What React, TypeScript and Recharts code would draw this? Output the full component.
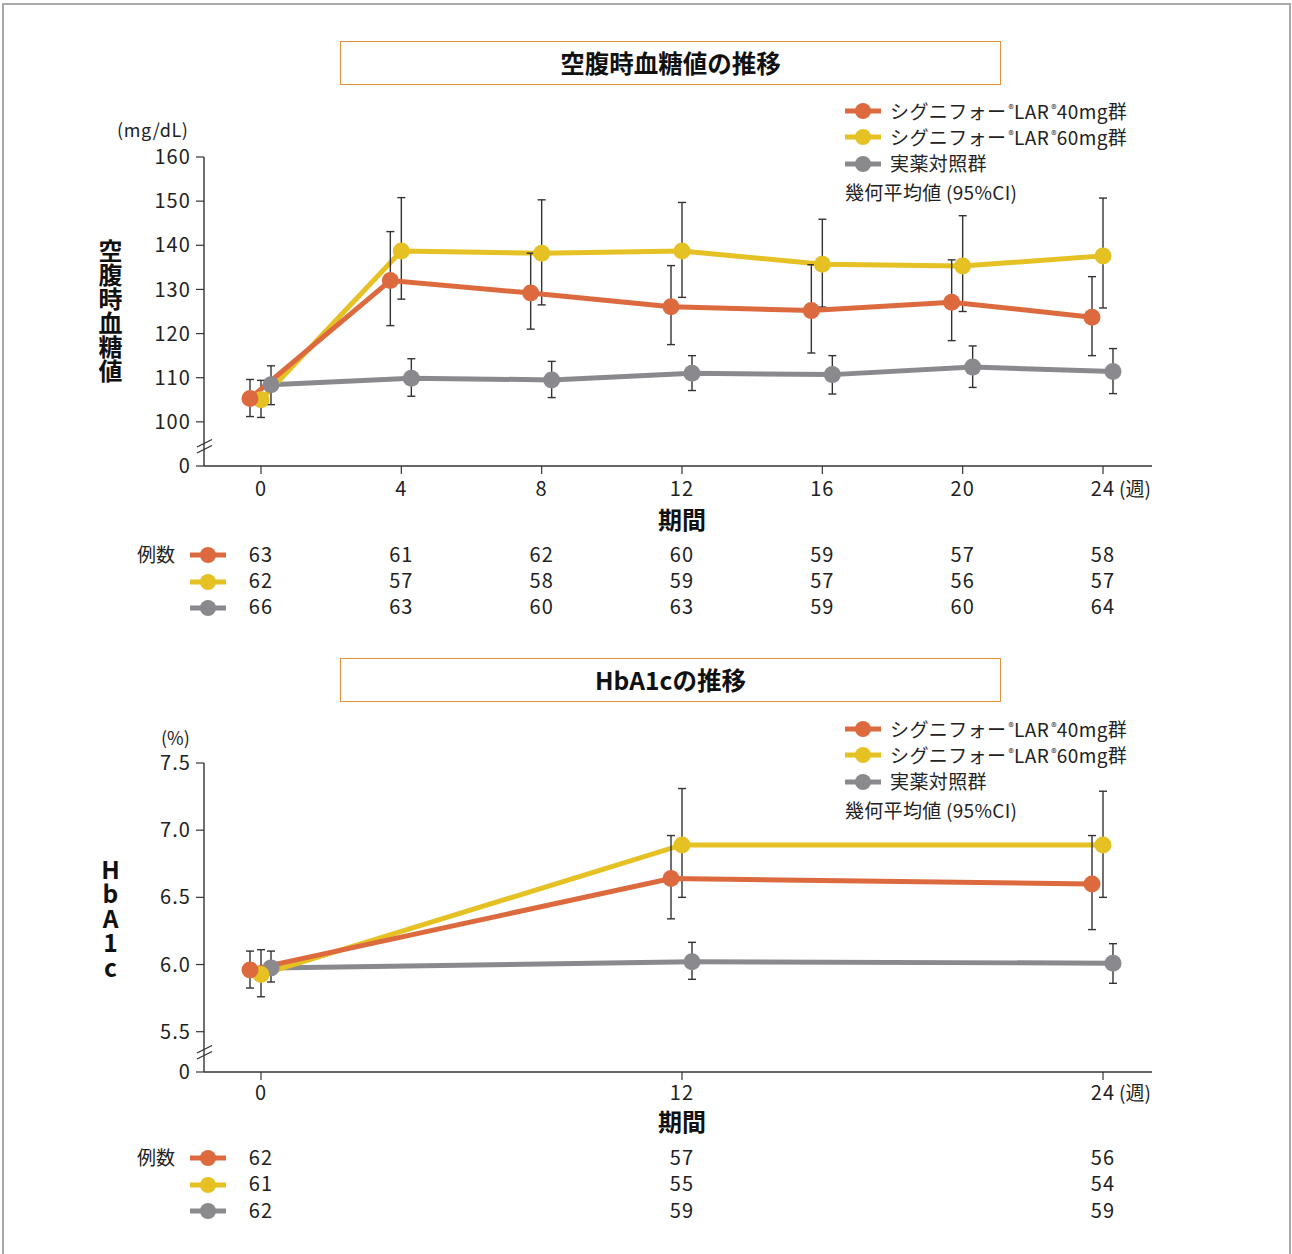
import { ErrorBar, Line, LineChart, XAxis, YAxis } from 'recharts';

const ORANGE = '#dc6a3e';
const YELLOW = '#e5c124';
const GRAY = '#8a8a8e';
const INK = '#222';
const FONT = '"Noto Sans CJK JP", "Noto Sans", sans-serif';

// 空腹時血糖値 (mg/dL), geometric mean and 95%CI
const fpgWeeks = [0, 4, 8, 12, 16, 20, 24];
const fpg40Mean = [105.3, 132.0, 129.2, 126.1, 125.2, 127.1, 123.7];
const fpg40Low = [101.2, 121.8, 121.0, 117.5, 115.6, 118.4, 115.0];
const fpg40High = [109.6, 143.1, 138.2, 135.4, 135.6, 136.7, 132.9];
const fpg60Mean = [105.0, 138.7, 138.2, 138.7, 135.7, 135.3, 137.6];
const fpg60Low = [101.0, 127.8, 126.5, 128.2, 126.0, 125.0, 125.8];
const fpg60High = [109.4, 150.8, 150.3, 149.7, 145.9, 146.7, 150.7];
const fpgCtrlMean = [108.4, 109.9, 109.5, 111.0, 110.7, 112.4, 111.4];
const fpgCtrlLow = [103.9, 105.8, 105.5, 107.1, 106.3, 107.8, 106.4];
const fpgCtrlHigh = [112.7, 114.3, 113.7, 115.0, 115.0, 117.2, 116.6];
const fpgN40 = [63, 61, 62, 60, 59, 57, 58];
const fpgN60 = [62, 57, 58, 59, 57, 56, 57];
const fpgNCtrl = [66, 63, 60, 63, 59, 60, 64];
const fpgTicks = [90, 100, 110, 120, 130, 140, 150, 160];

// HbA1c (%)
const hbaWeeks = [0, 12, 24];
const hba40Mean = [5.96, 6.64, 6.6];
const hba40Low = [5.825, 6.34, 6.26];
const hba40High = [6.1, 6.96, 6.96];
const hba60Mean = [5.925, 6.89, 6.89];
const hba60Low = [5.76, 6.5, 6.5];
const hba60High = [6.11, 7.31, 7.29];
const hbaCtrlMean = [5.975, 6.02, 6.01];
const hbaCtrlLow = [5.87, 5.89, 5.86];
const hbaCtrlHigh = [6.1, 6.165, 6.155];
const hbaN40 = [62, 57, 56];
const hbaN60 = [61, 55, 54];
const hbaNCtrl = [62, 59, 59];
const hbaTicks = [5.2, 5.5, 6.0, 6.5, 7.0, 7.5];

type Group = { mean: number[]; low: number[]; high: number[] };

function buildRows(weeks: number[], g40: Group, g60: Group, ctrl: Group) {
  return weeks.map((week, i) => ({
    week,
    o: g40.mean[i],
    oErr: [g40.mean[i] - g40.low[i], g40.high[i] - g40.mean[i]],
    y: g60.mean[i],
    yErr: [g60.mean[i] - g60.low[i], g60.high[i] - g60.mean[i]],
    g: ctrl.mean[i],
    gErr: [ctrl.mean[i] - ctrl.low[i], ctrl.high[i] - ctrl.mean[i]],
  }));
}

const fpgRows = buildRows(
  fpgWeeks,
  { mean: fpg40Mean, low: fpg40Low, high: fpg40High },
  { mean: fpg60Mean, low: fpg60Low, high: fpg60High },
  { mean: fpgCtrlMean, low: fpgCtrlLow, high: fpgCtrlHigh },
);
const hbaRows = buildRows(
  hbaWeeks,
  { mean: hba40Mean, low: hba40Low, high: hba40High },
  { mean: hba60Mean, low: hba60Low, high: hba60High },
  { mean: hbaCtrlMean, low: hbaCtrlLow, high: hbaCtrlHigh },
);

const NUM_FONT = 20;
const NUM_SPACING = 1.1;

function Icon({ color }: { color: string }) {
  return (
    <svg width={36} height={18} style={{ display: 'block' }}>
      <line x1={0} y1={9} x2={36} y2={9} stroke={color} strokeWidth={5} />
      <circle cx={18} cy={9} r={8} fill={color} />
    </svg>
  );
}

const sup = { fontSize: 11, verticalAlign: '6px', marginLeft: 2 };

function LegendBlock({ top }: { top: number }) {
  const rows = [
    { color: ORANGE, label: <>シグニフォー<span style={sup}>®</span>LAR<span style={sup}>®</span>40mg群</> },
    { color: YELLOW, label: <>シグニフォー<span style={sup}>®</span>LAR<span style={sup}>®</span>60mg群</> },
    { color: GRAY, label: <>実薬対照群</> },
  ];
  const centers = [0, 26, 53];
  return (
    <>
      {rows.map((r, i) => (
        <div key={i} style={{ position: 'absolute', left: 845, top: top + centers[i] - 11, height: 22, display: 'flex', alignItems: 'center' }}>
          <Icon color={r.color} />
          <span style={{ marginLeft: 9, marginTop: -3, fontSize: 19, color: INK, lineHeight: '22px', letterSpacing: 0.4, whiteSpace: 'nowrap' }}>{r.label}</span>
        </div>
      ))}
      <div style={{ position: 'absolute', left: 845, top: top + 83 - 13, lineHeight: '22px', fontSize: 19, color: INK, letterSpacing: 0.3 }}>
        幾何平均値 (95%CI)
      </div>
    </>
  );
}

function CountLegend({ top }: { top: number }) {
  const colors = [ORANGE, YELLOW, GRAY];
  return (
    <>
      <div style={{ position: 'absolute', left: 137, top: top - 12, lineHeight: '22px', fontSize: 19, color: INK }}>例数</div>
      {colors.map((c, i) => (
        <div key={c} style={{ position: 'absolute', left: 190, top: top + i * 26.5 - 9 }}>
          <Icon color={c} />
        </div>
      ))}
    </>
  );
}

type PanelProps = {
  top: number;
  height: number;
  plotTop: number;
  axisY: number;
  rows: ReturnType<typeof buildRows>;
  weeks: number[];
  yDomain: [number, number];
  yTicks: number[];
  yFormat: (v: number) => string;
  counts: number[][];
  labelDy: number;
  rowDy: number[];
};

function Panel({ top, height, plotTop, axisY, rows, weeks, yDomain, yTicks, yFormat, counts, labelDy, rowDy }: PanelProps) {
  const xAxisHeight = 160;
  const renderTick = (props: any) => {
    const { x, y, payload } = props;
    const i = weeks.indexOf(payload.value);
    const last = i === weeks.length - 1;
    const common = { dominantBaseline: 'central' as const, fontSize: NUM_FONT, fill: INK, fontFamily: FONT, letterSpacing: NUM_SPACING };
    return (
      <g>
        <text x={x} y={y + labelDy} textAnchor="middle" {...common}>
          {payload.value}
        </text>
        {last && (
          <text x={x + 16} y={y + labelDy} textAnchor="start" dominantBaseline="central" fontSize={19} fill={INK} fontFamily={FONT}>
            (週)
          </text>
        )}
        {counts.map((list, r) => (
          <text key={r} x={x} y={y + rowDy[r]} textAnchor="middle" {...common}>
            {list[i]}
          </text>
        ))}
      </g>
    );
  };
  const errProps = { width: 4, strokeWidth: 1.4, stroke: '#333', direction: 'y' as const };
  return (
    <div style={{ position: 'absolute', left: 0, top, width: 1292, height }}>
      <LineChart
        width={1292}
        height={height}
        data={rows}
        margin={{ top: plotTop, right: 140, left: 144, bottom: height - axisY - xAxisHeight }}
        style={{ fontFamily: FONT }}
      >
        <XAxis
          xAxisId="main"
          dataKey="week"
          type="number"
          domain={[0, 24]}
          ticks={weeks}
          padding={{ left: 57, right: 49 }}
          height={xAxisHeight}
          axisLine={{ stroke: '#333', strokeWidth: 1.4 }}
          tickLine={{ stroke: '#333', strokeWidth: 1.2 }}
          tickSize={8}
          tickMargin={0}
          tick={renderTick}
          interval={0}
        />
        <XAxis xAxisId="left" orientation="top" height={0} dataKey="week" type="number" domain={[0, 24]} padding={{ left: 46, right: 60 }} hide />
        <XAxis xAxisId="right" orientation="top" height={0} dataKey="week" type="number" domain={[0, 24]} padding={{ left: 67, right: 39 }} hide />
        <YAxis
          type="number"
          domain={yDomain}
          ticks={yTicks}
          interval={0}
          width={60}
          allowDataOverflow
          axisLine={{ stroke: '#333', strokeWidth: 1.4 }}
          tickLine={{ stroke: '#333', strokeWidth: 1.2 }}
          tickSize={8}
          tickMargin={5}
          tick={{ fontSize: NUM_FONT, fill: INK, fontFamily: FONT, letterSpacing: NUM_SPACING }}
          tickFormatter={yFormat}
        />
        <Line xAxisId="right" dataKey="g" stroke={GRAY} strokeWidth={5} dot={{ r: 8.5, fill: GRAY, stroke: GRAY, strokeWidth: 0 }} activeDot={false} isAnimationActive={false}>
          <ErrorBar dataKey="gErr" {...errProps} />
        </Line>
        <Line xAxisId="main" dataKey="y" stroke={YELLOW} strokeWidth={5} dot={{ r: 8.5, fill: YELLOW, stroke: YELLOW, strokeWidth: 0 }} activeDot={false} isAnimationActive={false}>
          <ErrorBar dataKey="yErr" {...errProps} />
        </Line>
        <Line xAxisId="left" dataKey="o" stroke={ORANGE} strokeWidth={5} dot={{ r: 8.5, fill: ORANGE, stroke: ORANGE, strokeWidth: 0 }} activeDot={false} isAnimationActive={false}>
          <ErrorBar dataKey="oErr" {...errProps} />
        </Line>
      </LineChart>
      {/* axis break */}
      <svg width={30} height={30} style={{ position: 'absolute', left: 192, top: axisY - 35 }}>
        <line x1={5} y1={16} x2={20} y2={8.5} stroke="#333" strokeWidth={1.3} />
        <line x1={5} y1={22} x2={20} y2={14.5} stroke="#333" strokeWidth={1.3} />
      </svg>
    </div>
  );
}

function TitleBox({ top, text }: { top: number; text: string }) {
  return (
    <div
      style={{
        position: 'absolute',
        left: 340,
        top,
        width: 659,
        height: 40,
        border: '1.5px solid #e0923e',
        display: 'flex',
        alignItems: 'center',
        justifyContent: 'center',
        fontSize: 24.5,
        fontWeight: 700,
        color: '#111',
        paddingBottom: 2,
        boxSizing: 'content-box',
      }}
    >
      {text}
    </div>
  );
}

export default function App() {
  return (
    <div style={{ position: 'absolute', left: 0, top: 0, width: 1292, height: 1254, overflow: 'hidden', background: '#fff', fontFamily: FONT }}>
      <div style={{ position: 'absolute', left: 2, top: 3, width: 1285, height: 1300, border: '2px solid #a8a8a8' }} />

      <TitleBox top={41} text="空腹時血糖値の推移" />
      <Panel
        top={0}
        height={630}
        plotTop={157}
        axisY={466}
        rows={fpgRows}
        weeks={fpgWeeks}
        yDomain={[90, 160]}
        yTicks={fpgTicks}
        yFormat={(v) => (v === 90 ? '0' : String(v))}
        counts={[fpgN40, fpgN60, fpgNCtrl]}
        labelDy={13}
        rowDy={[79, 105, 131]}
      />
      <div style={{ position: 'absolute', left: 117, top: 120, fontSize: 18, color: INK, lineHeight: '18px', letterSpacing: 0.6 }}>(mg/dL)</div>
      <div style={{ position: 'absolute', left: 96, top: 239, writingMode: 'vertical-rl', fontSize: 24, fontWeight: 700, color: '#111', lineHeight: '28px' }}>
        空腹時血糖値
      </div>
      <div style={{ position: 'absolute', left: 632, top: 507, width: 100, textAlign: 'center', fontSize: 24, fontWeight: 700, color: '#111', lineHeight: '24px' }}>期間</div>
      <LegendBlock top={111} />
      <CountLegend top={555} />

      <TitleBox top={658} text="HbA1cの推移" />
      <Panel
        top={620}
        height={634}
        plotTop={143}
        axisY={452}
        rows={hbaRows}
        weeks={hbaWeeks}
        yDomain={[5.2, 7.5]}
        yTicks={hbaTicks}
        yFormat={(v) => (v === 5.2 ? '0' : v.toFixed(1))}
        counts={[hbaN40, hbaN60, hbaNCtrl]}
        labelDy={11}
        rowDy={[76, 102, 129]}
      />
      <div style={{ position: 'absolute', left: 161, top: 728, fontSize: 18, color: INK, lineHeight: '18px' }}>(%)</div>
      <div
        style={{
          position: 'absolute',
          left: 96,
          top: 857,
          writingMode: 'vertical-rl',
          textOrientation: 'upright',
          fontSize: 24.5,
          fontWeight: 700,
          color: '#111',
          lineHeight: '28px',
        }}
      >
        HbA1c
      </div>
      <div style={{ position: 'absolute', left: 632, top: 1109, width: 100, textAlign: 'center', fontSize: 24, fontWeight: 700, color: '#111', lineHeight: '24px' }}>期間</div>
      <LegendBlock top={729} />
      <CountLegend top={1158} />
    </div>
  );
}
